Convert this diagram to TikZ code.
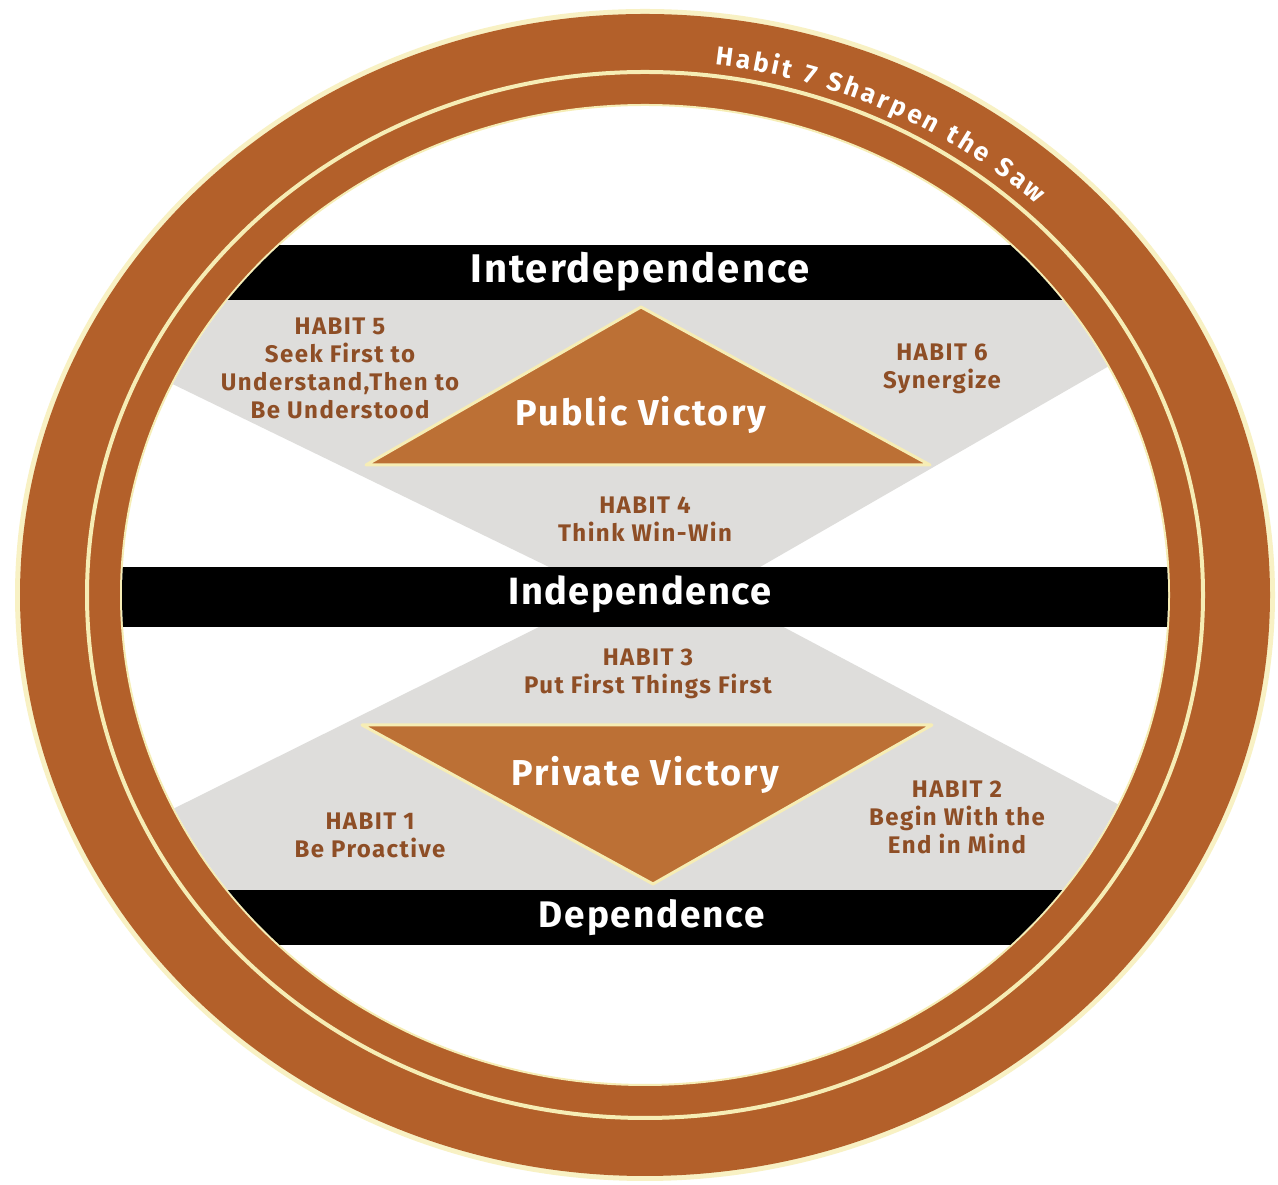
\documentclass[tikz,border=0pt]{standalone}
\usepackage{fontspec}
\setmainfont{Fira Sans}
\usetikzlibrary{decorations.text}
\definecolor{ringbrown}{HTML}{B3602A}
\definecolor{tribrown}{HTML}{BC7035}
\definecolor{habitbrown}{HTML}{8E4E26}
\definecolor{panelgray}{HTML}{DEDDDB}
\definecolor{creamline}{HTML}{F6EDB5}
\newcommand{\spaced}[2]{\bfseries\fontsize{#1}{28}\selectfont\addfontfeatures{LetterSpace=#2}}
\begin{document}
\begin{tikzpicture}[x=1pt,y=1pt,
  habit/.style={text=habitbrown, font=\spaced{24}{6}, align=center, inner sep=0pt},
  bandtext/.style={text=white, inner sep=0pt},
  victory/.style={text=white, font=\spaced{36}{6}, inner sep=0pt},
  band/.style={fill=black},
  panel/.style={fill=panelgray},
  tri/.style={fill=tribrown, draw=creamline, line width=3pt, line join=round}]
\useasboundingbox (0,0) rectangle (1278,1185);
\fill[white] (0,0) rectangle (1278,1185);
\coordinate (c) at (645,590);
% rings
\draw[creamline!80!white, line width=10pt] (c) ellipse[x radius=625, y radius=581];
\fill[ringbrown] (c) ellipse[x radius=625, y radius=581];
\draw[creamline, line width=4pt] (c) ellipse[x radius=558, y radius=523];
\fill[white] (c) ellipse[x radius=524, y radius=490];
\draw[creamline, line width=2pt] (c) ellipse[x radius=524, y radius=490];
% inner content
\begin{scope}
\clip (c) ellipse[x radius=523, y radius=489];
\fill[panel] (-21,895) -- (1241,895) -- (760,618) -- (549,618) -- cycle;
\fill[panel] (549,563) -- (774,563) -- (1289,290) -- (0,290) -- cycle;
\fill[band] (0,885) rectangle (1278,940);
\fill[band] (0,558) rectangle (1278,618);
\fill[band] (0,240) rectangle (1278,295);
\end{scope}
\draw[tri] (641,878) -- (930,720) -- (366,720) -- cycle;
\draw[tri] (362,460) -- (932,460) -- (653,301) -- cycle;
% band labels
\node[bandtext, font=\spaced{40}{5}] (inter) at (640,913) {Interdependence};
\node[bandtext, font=\spaced{38}{4}] (indep) at (640,591) {Independence};
\node[bandtext, font=\spaced{37}{5}] (dep) at (652,267) {Dependence};
% victories
\node[victory] (public) at (641,770) {Public Victory};
\node[victory] (private) at (645,410) {Private Victory};
% habits
\node[habit] (h5) at (340,817) {HABIT 5\\Seek First to\\Understand,Then to\\Be Understood};
\node[habit] (h6) at (942,816) {HABIT 6\\Synergize};
\node[habit] (h4) at (645,666) {HABIT 4\\Think Win-Win};
\node[habit] (h3) at (648,511) {HABIT 3\\Put First Things First};
\node[habit] (h1) at (370,350) {HABIT 1\\Be Proactive};
\node[habit] (h2) at (957,368) {HABIT 2\\Begin With the\\End in Mind};
% habit 7 along the ring
\path[decorate, decoration={text along path, text align={fit to path},
  text={|\bfseries\fontsize{26}{26}\selectfont\color{white}|Habit 7 Sharpen the Saw}}]
  (645,590) ++(83:574 and 534) arc[start angle=83, end angle=47, x radius=574, y radius=534];
\end{tikzpicture}
\end{document}
